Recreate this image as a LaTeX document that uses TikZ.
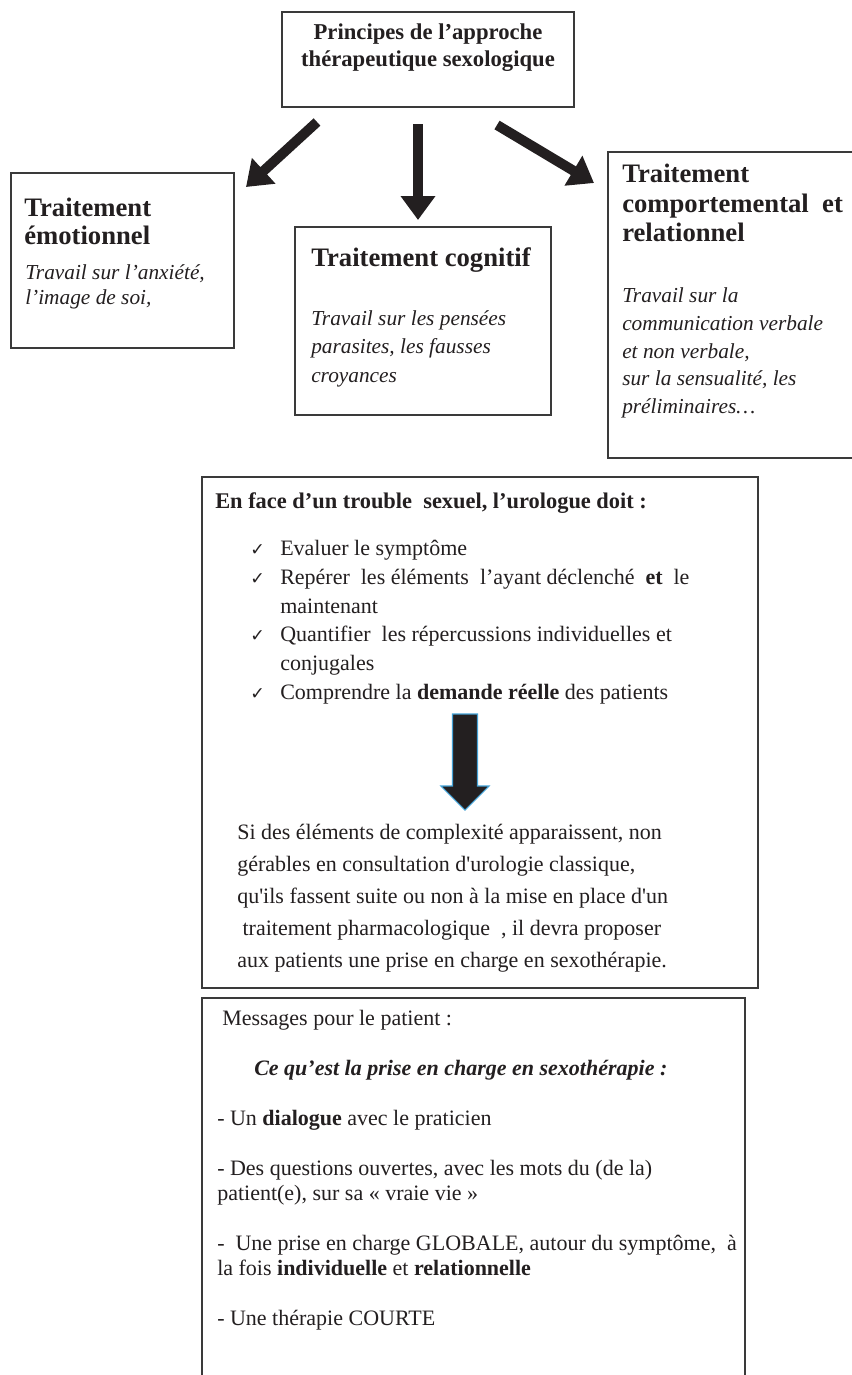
\documentclass[tikz,border=0pt]{standalone}
\usepackage{fontspec}
\setmainfont{Liberation Serif}
\newfontfamily\docfont{Liberation Serif}
\newfontfamily\symfont{DejaVu Sans}
\usetikzlibrary{arrows.meta,fit}
\definecolor{inkblack}{HTML}{231F20}
\definecolor{framegray}{HTML}{3A3A3A}
\definecolor{arrowblue}{HTML}{45A2D6}
\newcommand{\chkmark}{\makebox[22.5pt][l]{{\symfont\fontsize{13}{13}\selectfont ✓}}}

\begin{document}
\begin{tikzpicture}[x=0.75pt,y=0.75pt,yscale=-1,
  box/.style={draw=framegray,line width=1pt,inner sep=0pt},
  txt/.style={inner sep=0pt,text=inkblack,align=left,anchor=north west},
  fatarrow/.style={draw=inkblack,line width=7.5pt,-{Triangle[length=18pt,width=25pt]}},
  downarrow/.style={fill=inkblack,draw=arrowblue,line width=0.8pt,line join=miter}]
%set diagram to 852 x 1375
\fill[white] (0,0) rectangle (852,1375);
\useasboundingbox (0,0) rectangle (852,1375);
\clip (0,0) rectangle (852,1375);

%Shape: Rectangle [principes]
\node[box,fit={(282,12) (574,107)}] (princ) {};
%Shape: Rectangle [emotionnel]
\node[box,fit={(11,173) (234,348)}] (emo) {};
%Shape: Rectangle [cognitif]
\node[box,fit={(295,227) (551,415)}] (cog) {};
%Shape: Rectangle [comportemental], runs off the right edge
\node[box,fit={(608,152) (870,458)}] (comp) {};
%Shape: Rectangle [urologue]
\node[box,fit={(202,477) (758,988)}] (uro) {};
%Shape: Rectangle [messages], runs off the bottom edge
\node[box,fit={(202,998) (745,1395)}] (msg) {};

%Straight Lines [fat arrows]
\coordinate (outL) at (317,122);
\coordinate (inEmo) at (246,187);
\coordinate (outM) at (418,124);
\coordinate (inCog) at (418,220);
\coordinate (outR) at (497,125);
\coordinate (inComp) at (594,183);
\draw[fatarrow] (outL) -- (inEmo);
\draw[fatarrow] (outM) -- (inCog);
\draw[fatarrow] (outR) -- (inComp);

%Shape: Down Arrow
\coordinate (chkEnd) at (465,714);
\coordinate (parTop) at (465,810);
\draw[downarrow] (chkEnd) ++(-12.5,0) -- ++(25,0) -- ++(0,72) -- ++(11.5,0) -- (parTop) -- ++(-24,-24) -- ++(11.5,0) -- cycle;

% Text Node
\node[txt,anchor=north,align=center,font=\fontsize{17}{20.25}\selectfont\bfseries] (princT) at (428,20) {\strut Principes de l’approche\\thérapeutique sexologique};
% Text Node
\node[txt,font=\fontsize{20}{21}\selectfont\bfseries] (emoT) at (24,197) {\strut Traitement\\émotionnel};
\node[txt,font=\fontsize{16}{18.5}\selectfont\itshape] (emoB) at (25,262) {\strut Travail sur l’anxiété,\\l’image de soi,};
% Text Node
\node[txt,anchor=base west,font=\fontsize{20}{21}\selectfont\bfseries] (cogT) at (311,266) {Traitement cognitif};
\node[txt,font=\fontsize{16}{21.4}\selectfont\itshape] (cogB) at (311,305) {\strut Travail sur les pensées\\parasites, les fausses\\croyances};
% Text Node
\node[txt,font=\fontsize{20}{22.1}\selectfont\bfseries] (compT) at (622,162) {\strut Traitement\\comportemental\ \ et\\relationnel};
\node[txt,font=\fontsize{16}{20.8}\selectfont\itshape] (compB) at (622,283) {\strut Travail sur la\\communication verbale\\et non verbale,\\sur la sensualité, les\\préliminaires…};

% Text Node
\node[txt,anchor=base west,font=\fontsize{16.8}{20}\selectfont\bfseries] (uroT) at (215,508) {En face d’un trouble\ \ sexuel, l’urologue doit :};
\node[txt,font=\fontsize{16.5}{21.6}\selectfont] (uroL) at (250,535) {\strut\chkmark Evaluer le symptôme\\\chkmark Repérer\ \ les éléments\ \ l’ayant déclenché\ \ \textbf{et}\ \ le\\\hspace*{22.5pt}maintenant\\\chkmark Quantifier\ \ les répercussions individuelles et\\\hspace*{22.5pt}conjugales\\\chkmark Comprendre la \textbf{demande réelle} des patients};
\node[txt,font=\docfont\fontsize{16.5}{24}\selectfont] (uroP) at (237,817) {\strut Si des éléments de complexité apparaissent, non\\gérables en consultation d'urologie classique,\\qu'ils fassent suite ou non à la mise en place d'un\\\hspace*{4pt}traitement pharmacologique\ \ , il devra proposer\\aux patients une prise en charge en sexothérapie.};

% Text Node
\node[txt,anchor=base west,font=\fontsize{16.5}{18.75}\selectfont] (msgT) at (222,1025) {Messages pour le patient :};
\node[txt,anchor=base west,font=\fontsize{16.5}{18.75}\selectfont\bfseries\itshape] (msgS) at (254,1075) {Ce qu’est la prise en charge en sexothérapie :};
\node[txt,font=\fontsize{16.5}{18.75}\selectfont] (msgL) at (217,1107.5) {\strut - Un \textbf{dialogue} avec le praticien\\[18.75pt]- Des questions ouvertes, avec les mots du (de la)\\patient(e), sur sa « vraie vie »\\[18.75pt]-\ \ Une prise en charge GLOBALE, autour du symptôme,\ \ à\\la fois \textbf{individuelle} et \textbf{relationnelle}\\[18.75pt]- Une thérapie COURTE};
\end{tikzpicture}
\end{document}
